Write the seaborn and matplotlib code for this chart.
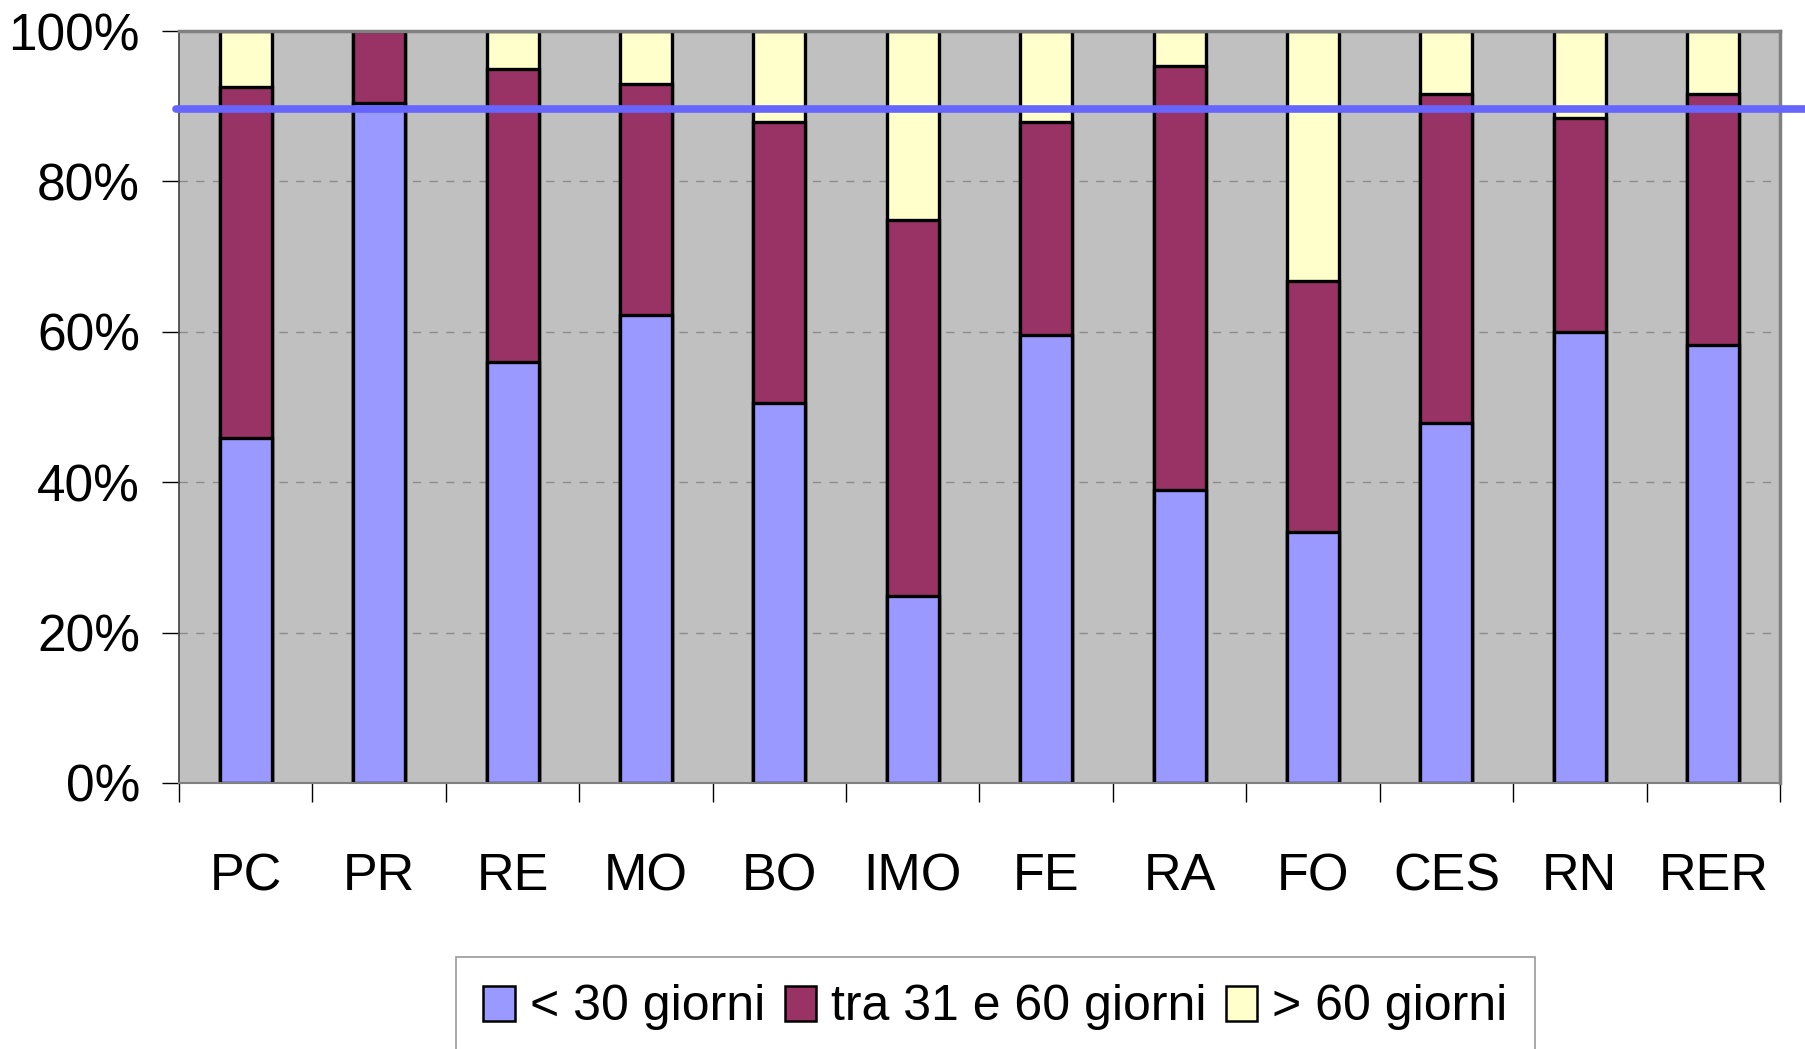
import numpy as np
import pandas as pd
import matplotlib
matplotlib.use("Agg")
import matplotlib.pyplot as plt
import seaborn as sns
from matplotlib.patches import Patch
from matplotlib.ticker import FixedLocator

# ─── DATA ─────────────────────────────────────────────────────────────────────
aree = ['PC', 'PR', 'RE', 'MO', 'BO', 'IMO', 'FE', 'RA', 'FO', 'CES', 'RN', 'RER']
meno_30 = [45.9, 90.4, 56.0, 62.2, 50.5, 24.8, 59.6, 38.9, 33.4, 47.9, 60.0, 58.2]
tra_31_60 = [46.6, 9.6, 38.9, 30.8, 37.4, 50.1, 28.3, 56.5, 33.4, 43.7, 28.5, 33.4]
oltre_60 = [7.5, 0.0, 5.1, 7.0, 12.1, 25.1, 12.1, 4.6, 33.2, 8.4, 11.5, 8.4]
soglia = 89.6  # horizontal reference line (%)

serie = ['< 30 giorni', 'tra 31 e 60 giorni', '> 60 giorni']
colori = ['#9999FF', '#993366', '#FFFFCC']

# ─── STYLE ────────────────────────────────────────────────────────────────────
sns.set_style('white')
plt.rcParams['font.family'] = ['Liberation Sans', 'DejaVu Sans']
plt.rcParams['text.color'] = 'black'
plt.rcParams['xtick.color'] = 'black'
plt.rcParams['ytick.color'] = 'black'

df = pd.DataFrame({'area': aree, 'lt30': meno_30, 'mid': tra_31_60, 'gt60': oltre_60})
df['cum1'] = df['lt30']
df['cum2'] = df['lt30'] + df['mid']
df['cum3'] = df['cum2'] + df['gt60']

fig = plt.figure(figsize=(18.06, 10.49), dpi=100)
ax = fig.add_axes([0.0991, 0.2536, 0.8865, 0.7168])
ax.set_facecolor('#C0C0C0')

# stacked bars: draw totals first, then smaller cumulative layers on top
for col, c in zip(['cum3', 'cum2', 'cum1'], colori[::-1]):
    sns.barplot(data=df, x='area', y=col, color=c, width=0.39, saturation=1,
                edgecolor='black', linewidth=2.4, ax=ax, zorder=2)

ax.axhline(soglia, xmin=-0.002, xmax=1.05, color='#6666FF', lw=5.5,
           zorder=5, clip_on=False)

# axes / ticks
ax.set_xlim(-0.5, len(aree) - 0.5)
ax.set_ylim(0, 100)
ax.set_yticks(np.arange(0, 101, 20))
ax.set_yticklabels([f'{v}%' for v in range(0, 101, 20)])
ax.yaxis.grid(True, linestyle=(0, (6, 6)), color='#8c8c8c', lw=1.0, zorder=1)
ax.set_axisbelow(True)
ax.set_xlabel('')
ax.set_ylabel('')

ax.xaxis.set_minor_locator(FixedLocator(np.arange(-0.5, len(aree), 1.0)))
ax.tick_params(axis='x', which='major', length=0, pad=50, labelsize=37.5,
               labelcolor='black')
ax.tick_params(axis='x', which='minor', length=14, width=1.0, color='black',
               direction='out', bottom=True)
ax.tick_params(axis='y', which='major', length=12, width=1.0, color='black',
               direction='out', left=True, pad=16, labelsize=37,
               labelcolor='black')

for side in ['top', 'right']:
    ax.spines[side].set_color('#808080')
    ax.spines[side].set_linewidth(2.5)
ax.spines['left'].set_color('#404040')
ax.spines['left'].set_linewidth(1.2)
ax.spines['bottom'].set_color('#808080')
ax.spines['bottom'].set_linewidth(1.5)

# legend
handles = [Patch(facecolor=c, edgecolor='black', lw=1.8, label=s)
           for s, c in zip(serie, colori)]
leg = fig.legend(handles=handles, loc='upper left', ncol=3,
                 bbox_to_anchor=(456 / 1806, 1 - 957 / 1049),
                 fontsize=36, frameon=True, fancybox=False,
                 handlelength=0.62, handleheight=0.7, handletextpad=0.3,
                 columnspacing=0.4, borderpad=0.55, borderaxespad=0)
leg.get_frame().set_edgecolor('#808080')
leg.get_frame().set_linewidth(1.2)
for t in leg.get_texts():
    t.set_color('black')

fig.savefig('out.png', dpi=100)
